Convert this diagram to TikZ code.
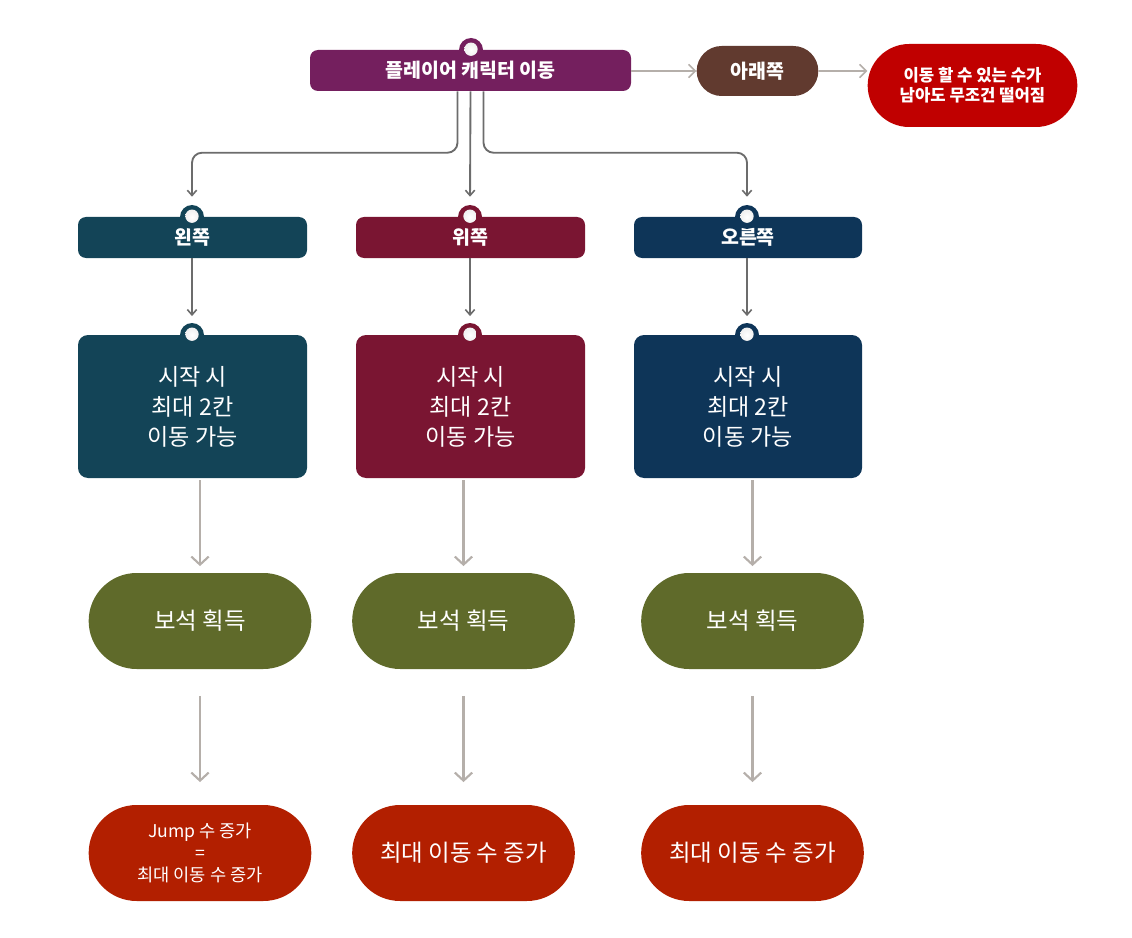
\documentclass[tikz,border=0pt]{standalone}
\usepackage{fontspec}
\setmainfont{Noto Sans CJK KR}
\usetikzlibrary{arrows.meta,shapes.misc,calc}
\definecolor{cTop}{HTML}{741F5E}
\definecolor{cDown}{HTML}{613A2F}
\definecolor{cFall}{HTML}{C00000}
\definecolor{cTeal}{HTML}{134457}
\definecolor{cMaroon}{HTML}{7A1532}
\definecolor{cNavy}{HTML}{0E3558}
\definecolor{cOlive}{HTML}{5F6A2A}
\definecolor{cRed}{HTML}{B21F00}
\definecolor{cDark}{HTML}{6C6C6C}
\definecolor{cLight}{HTML}{B5AFAA}
\tikzset{
  lbl/.style={rectangle, rounded corners=6pt, fill=#1, text=white, font=\fontsize{14.6}{17}\selectfont\bfseries, minimum height=30.75pt, inner sep=2pt},
  bigbox/.style={rectangle, rounded corners=7.5pt, fill=#1, text=white, font=\fontsize{17.3}{22.5}\selectfont, minimum width=171.75pt, minimum height=107.25pt, align=center, inner sep=2pt},
  pill/.style={rounded rectangle, fill=#1, text=white, minimum width=171pt, minimum height=72pt, align=center, inner sep=2pt, font=\fontsize{17.6}{21}\selectfont},
  marker/.style={circle, fill=#1, minimum size=18pt, inner sep=0pt, path picture={\shade[inner color=white, outer color=black!10] ([yshift=0.6pt]path picture bounding box.center) circle (5pt);}},
  darr/.style={draw=cDark, line width=1.4pt, -{Straight Barb[length=4pt,width=7pt,line width=1.2pt]}, rounded corners=7.5pt},
  larr/.style={draw=cLight, line width=2.2pt, -{Straight Barb[length=6pt,width=13pt,line width=1.6pt]}},
  tarr/.style={draw=cLight, line width=1.5pt, -{Straight Barb[length=5pt,width=10pt,line width=1.2pt]}},
}
\begin{document}
\begin{tikzpicture}[x=0.75pt,y=-0.75pt]
\useasboundingbox (0,0) rectangle (1132,938);
% top row
\node[lbl=cTop, minimum width=240.75pt] (top) at (470.5,70.5) {플레이어 캐릭터 이동};
\node[marker=cTop] (mtop) at (471,50) {};
\node[rounded rectangle, fill=cDown, text=white, font=\fontsize{14.6}{17}\selectfont\bfseries, minimum width=95.25pt, minimum height=37.5pt, inner sep=2pt] (down) at (757.5,71) {아래쪽};
\node[rounded rectangle, fill=cFall, text=white, font=\fontsize{12.5}{15}\selectfont\bfseries, minimum width=161.25pt, minimum height=62.25pt, align=center, inner sep=2pt] (fall) at (972.5,85.5) {이동 할 수 있는 수가\\ 남아도 무조건 떨어짐};
\draw[tarr] (top.east |- down.west) -- (down.west);
\draw[tarr] (down.east) -- (fall.west |- down.east);
% direction labels
\node[lbl=cTeal, minimum width=171.75pt] (L1) at (192.5,237.5) {왼쪽};
\node[lbl=cMaroon, minimum width=171.75pt] (M1) at (470.5,237.5) {위쪽};
\node[lbl=cNavy, minimum width=171pt] (R1) at (748,237.5) {오른쪽};
\node[marker=cTeal] (ml1) at (192,217) {};
\node[marker=cMaroon] (mm1) at (470,217) {};
\node[marker=cNavy] (mr1) at (747,217) {};
\draw[darr, shorten >=6pt] ($(top.south)+(-13,0)$) |- ($(ml1.north)+(0,-52)$) -- (ml1.north);
\draw[darr, shorten >=6pt] (top.south) -- (mm1.north);
\draw[darr, shorten >=6pt] ($(top.south)+(13,0)$) |- ($(mr1.north)+(0,-52)$) -- (mr1.north);
% big boxes
\node[bigbox=cTeal] (L2) at (192.5,406.5) {시작 시\\최대 2칸\\ 이동 가능};
\node[bigbox=cMaroon] (M2) at (470.5,406.5) {시작 시\\최대 2칸\\ 이동 가능};
\node[bigbox=cNavy, minimum width=171pt] (R2) at (748,406.5) {시작 시\\최대 2칸\\ 이동 가능};
\node[marker=cTeal] (ml2) at (192,335) {};
\node[marker=cMaroon] (mm2) at (470,335) {};
\node[marker=cNavy] (mr2) at (747,335) {};
\draw[darr, shorten >=5pt] (L1.south -| ml2.north) -- (ml2.north);
\draw[darr, shorten >=5pt] (M1.south -| mm2.north) -- (mm2.north);
\draw[darr, shorten >=5pt] (R1.south -| mr2.north) -- (mr2.north);
% gems
\node[pill=cOlive] (L3) at (200,621) {보석 획득};
\node[pill=cOlive] (M3) at (463.5,621) {보석 획득};
\node[pill=cOlive] (R3) at (752.5,621) {보석 획득};
\draw[larr, shorten >=5pt, shorten <=1.5pt] (L2.south -| L3.north) -- (L3.north);
\draw[larr, shorten >=5pt, shorten <=1.5pt] (M2.south -| M3.north) -- (M3.north);
\draw[larr, shorten >=5pt, shorten <=1.5pt] (R2.south -| R3.north) -- (R3.north);
% results
\node[pill=cRed, font=\fontsize{13.2}{16.5}\selectfont] (L4) at (200,853) {Jump 수 증가\\=\\최대 이동 수 증가};
\node[pill=cRed] (M4) at (463.5,853) {최대 이동 수 증가};
\node[pill=cRed] (R4) at (752.5,853) {최대 이동 수 증가};
\draw[larr, shorten <=20pt, shorten >=17pt] (L3.south) -- (L4.north);
\draw[larr, shorten <=20pt, shorten >=17pt] (M3.south) -- (M4.north);
\draw[larr, shorten <=20pt, shorten >=17pt] (R3.south) -- (R4.north);
\end{tikzpicture}
\end{document}
